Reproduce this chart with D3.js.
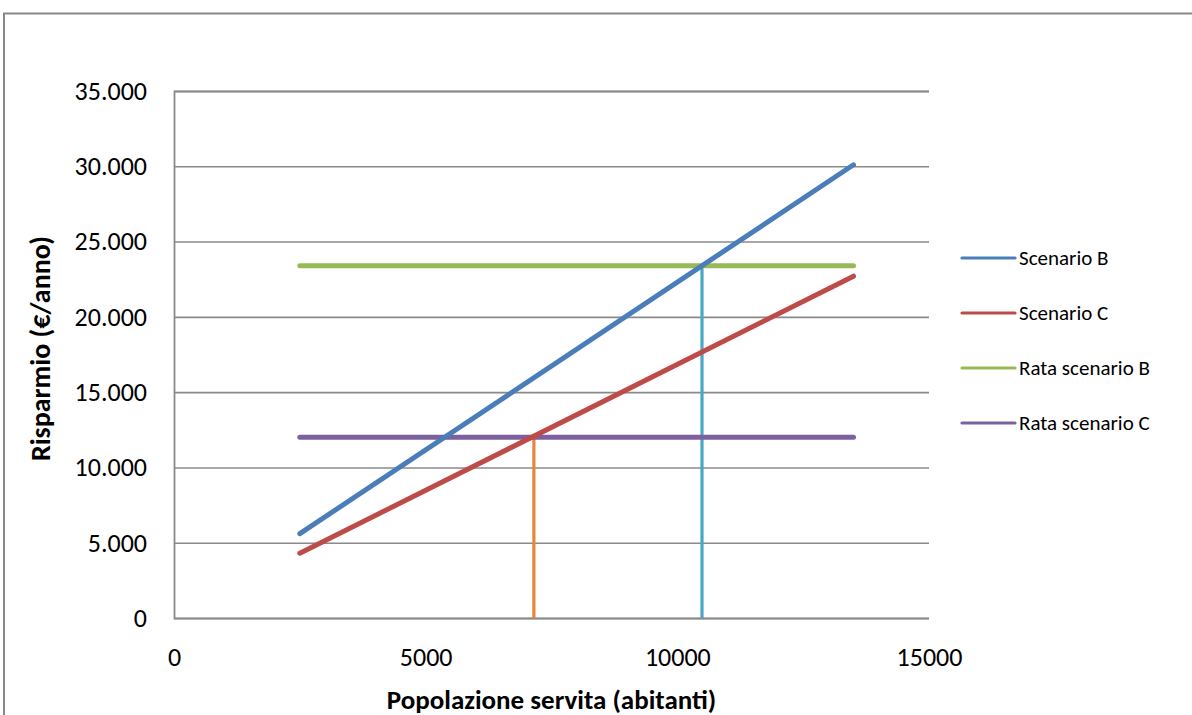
<!DOCTYPE html>
<html lang="it">
<head>
<meta charset="utf-8">
<title>Risparmio in funzione della popolazione servita</title>
<script src="https://cdn.jsdelivr.net/npm/d3@7"></script>
<style>
  html, body { margin: 0; padding: 0; background: #ffffff; }
  svg { display: block; }
  svg text { font-family: Carlito, Calibri, Lato, sans-serif; }
</style>
</head>
<body>
<svg id="chart" width="1192" height="715"></svg>
<script>
// Popolazione servita (abitanti) agli estremi delle serie
const popolazione = [2500, 13500];

// Risparmio annuo (€/anno) per ciascuna serie
const scenarioB = [5600, 30100];
const scenarioC = [4300, 22700];
const rataB = [23400, 23400];
const rataC = [12000, 12000];

// Punti di pareggio: popolazione e rata corrispondente
const pareggioPop = [7150, 10490];
const pareggioRata = [12000, 23400];

const nomiSerie = ["Scenario B", "Scenario C", "Rata scenario B", "Rata scenario C"];
const coloriSerie = ["#4a7ebb", "#be4b48", "#98b954", "#7d60a0"];
const coloriPareggio = ["#e8853b", "#4aa7c4"];

const xTicks = [0, 5000, 10000, 15000];
const yTicks = [0, 5000, 10000, 15000, 20000, 25000, 30000, 35000];

const FONT = "Carlito, Calibri, Lato, sans-serif";
const svg = d3.select("#chart");

// Cornice esterna del grafico
svg.append("path")
  .attr("d", "M4,715 V13.5 H1192")
  .attr("fill", "none")
  .attr("stroke", "#898989")
  .attr("stroke-width", 2);

const x = d3.scaleLinear().domain([0, 15000]).range([174, 929]);
const y = d3.scaleLinear().domain([0, 35000]).range([618, 91]);

const fmtIt = d3.formatLocale({ decimal: ",", thousands: ".", grouping: [3], currency: ["€", ""] }).format(",d");

// Griglia orizzontale con etichette dell'asse Y
const yAxis = d3.axisLeft(y)
  .tickValues(yTicks)
  .tickSize(-(x.range()[1] - x.range()[0]))
  .tickPadding(27)
  .tickFormat(fmtIt);

const gy = svg.append("g")
  .attr("transform", `translate(${x.range()[0]},0)`)
  .call(yAxis)
  .attr("font-family", FONT)
  .attr("font-size", 26);
gy.select(".domain").attr("stroke", "#8a8a8a").attr("stroke-width", 1.8);
gy.selectAll(".tick line").attr("stroke", "#8a8a8a").attr("stroke-width", 1.6);
gy.selectAll(".tick text").attr("fill", "#000");

// Asse X: solo etichette, la linea di base coincide con la griglia a 0
const xAxis = d3.axisBottom(x)
  .tickValues(xTicks)
  .tickSize(0)
  .tickPadding(30)
  .tickFormat(d3.format("d"));

const gx = svg.append("g")
  .attr("transform", `translate(0,${y(0)})`)
  .call(xAxis)
  .attr("font-family", FONT)
  .attr("font-size", 26);
gx.select(".domain").remove();
gx.selectAll(".tick text").attr("fill", "#000");

// Titoli degli assi
svg.append("text")
  .attr("x", (x.range()[0] + x.range()[1]) / 2)
  .attr("y", 709)
  .attr("text-anchor", "middle")
  .style("font-size", "27px")
  .style("font-weight", "bold")
  .text("Popolazione servita (abitanti)");

svg.append("text")
  .attr("transform", `translate(50,${(y.range()[0] + y.range()[1]) / 2 - 6}) rotate(-90)`)
  .attr("text-anchor", "middle")
  .style("font-size", "28px")
  .style("font-weight", "bold")
  .text("Risparmio (€/anno)");

// Linee verticali dei punti di pareggio
pareggioPop.forEach((p, i) => {
  svg.append("line")
    .attr("x1", x(p)).attr("x2", x(p))
    .attr("y1", y(0)).attr("y2", y(pareggioRata[i]))
    .attr("stroke", coloriPareggio[i])
    .attr("stroke-width", 3.2);
});

// Serie
const serie = [scenarioB, scenarioC, rataB, rataC];
const line = d3.line()
  .x((d, i) => x(popolazione[i]))
  .y(d => y(d));

// Ordine di disegno: rate sotto, scenari sopra
[2, 3, 1, 0].forEach(k => {
  svg.append("path")
    .datum(serie[k])
    .attr("d", line)
    .attr("fill", "none")
    .attr("stroke", coloriSerie[k])
    .attr("stroke-width", 5)
    .attr("stroke-linecap", "round");
});

// Legenda
const legenda = svg.append("g").attr("transform", "translate(962,258)");
nomiSerie.forEach((nome, i) => {
  const g = legenda.append("g").attr("transform", `translate(0,${i * 55})`);
  g.append("line")
    .attr("x1", 0).attr("x2", 53)
    .attr("y1", 0).attr("y2", 0)
    .attr("stroke", coloriSerie[i])
    .attr("stroke-width", 3.2)
    .attr("stroke-linecap", "round");
  g.append("text")
    .attr("x", 57)
    .attr("y", 7)
    .style("font-size", "21px")
    .text(nome);
});
</script>
</body>
</html>
